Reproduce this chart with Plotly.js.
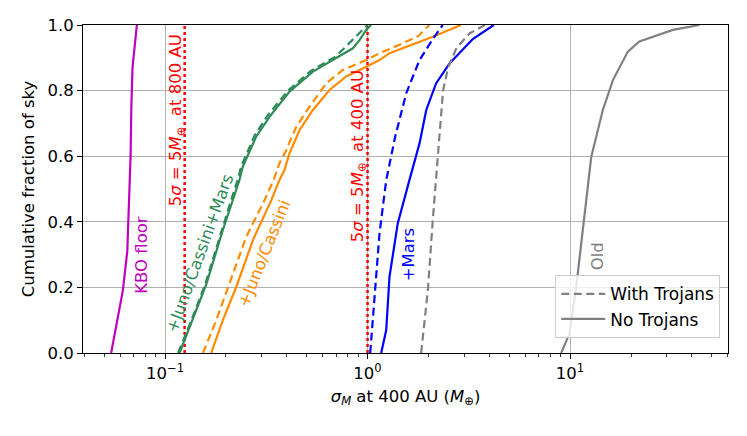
<!DOCTYPE html>
<html>
<head>
<meta charset="utf-8">
<script src="https://cdn.plot.ly/plotly-3.0.1.min.js"></script>
<style>
  html, body { margin: 0; padding: 0; background: #fff; }
  #chart { width: 747px; height: 436px; }
</style>
</head>
<body>
<div id="chart"></div>
<script>
// cumulative fraction of sky (y) vs sigma_M at 400 AU (x, Earth masses)
var kboX = [0.0542, 0.0570, 0.0619, 0.0651, 0.0662, 0.0668, 0.0676, 0.0682, 0.0691, 0.0726];
var kboY = [0, 0.07, 0.19, 0.31, 0.45, 0.53, 0.60, 0.75, 0.87, 1.0];

var jcmSolidX = [0.118, 0.137, 0.160, 0.193, 0.216, 0.233, 0.242, 0.282, 0.328, 0.412, 0.537, 0.727, 0.846, 0.913, 0.985, 1.04];
var jcmSolidY = [0, 0.10, 0.21, 0.375, 0.466, 0.527, 0.568, 0.66, 0.72, 0.797, 0.858, 0.904, 0.929, 0.954, 0.985, 1.0];
var jcmDashX = [0.116, 0.135, 0.158, 0.190, 0.213, 0.229, 0.238, 0.278, 0.322, 0.405, 0.525, 0.70, 0.785, 0.948, 1.0];
var jcmDashY = [0, 0.10, 0.21, 0.375, 0.47, 0.53, 0.57, 0.665, 0.725, 0.80, 0.86, 0.905, 0.935, 0.985, 1.0];

var jcSolidX = [0.169, 0.193, 0.225, 0.272, 0.335, 0.367, 0.389, 0.412, 0.462, 0.537, 0.649, 0.785, 0.985, 1.146, 1.284, 1.70, 2.10, 2.90];
var jcSolidY = [0, 0.10, 0.202, 0.345, 0.466, 0.527, 0.558, 0.609, 0.68, 0.741, 0.802, 0.843, 0.873, 0.893, 0.914, 0.942, 0.964, 1.0];
var jcDashX = [0.154, 0.179, 0.208, 0.252, 0.31, 0.345, 0.367, 0.397, 0.445, 0.517, 0.625, 0.755, 0.985, 1.146, 1.44, 1.77, 2.02];
var jcDashY = [0, 0.10, 0.212, 0.355, 0.466, 0.53, 0.578, 0.619, 0.69, 0.751, 0.822, 0.863, 0.893, 0.914, 0.94, 0.965, 1.0];

var marsSolidX = [1.168, 1.237, 1.284, 1.41, 1.61, 1.806, 1.95, 2.18, 2.54, 3.31, 4.20];
var marsSolidY = [0, 0.07, 0.233, 0.395, 0.527, 0.639, 0.741, 0.822, 0.883, 0.957, 1.0];
var marsDashX = [1.031, 1.083, 1.146, 1.237, 1.37, 1.553, 1.806, 2.10, 2.35];
var marsDashY = [0, 0.162, 0.365, 0.527, 0.66, 0.792, 0.893, 0.957, 1.0];

var oldDashX = [1.84, 1.986, 2.10, 2.22, 2.29, 2.36, 2.50, 2.75, 3.20, 3.80];
var oldDashY = [0, 0.192, 0.405, 0.598, 0.70, 0.80, 0.87, 0.93, 0.975, 1.0];
var oldSolidX = [9.05, 9.94, 10.73, 11.79, 12.73, 14.52, 16.28, 19.3, 22.0, 32.2, 43.6];
var oldSolidY = [0, 0.06, 0.202, 0.426, 0.598, 0.741, 0.832, 0.919, 0.95, 0.985, 1.0];

var limitX = [0.125, 1.0];

var labelText = ['5<i>σ</i> = 5<i>M</i><sub>⊕</sub>  at 800 AU', '5<i>σ</i> = 5<i>M</i><sub>⊕</sub>  at 400 AU',
  'KBO floor', '+Juno/Cassini+Mars', '+Juno/Cassini', '+Mars', 'Old'];
var labelX = [0.1136, 0.897, 0.0763, 0.149, 0.31, 1.61, 13.7];
var labelY = [0.71, 0.60, 0.30, 0.302, 0.302, 0.302, 0.294];
var labelAngle = [-90, -90, -90, -70, -68, -90, -90];
var labelColor = ['#ff0000', '#ff0000', '#bf00bf', '#2e8b57', '#ff8c00', '#0000ff', '#808080'];

var DASH = '8px,4.5px';
var LW = 2.2;

function line(x, y, color, dash, name, legend) {
  return {x: x, y: y, type: 'scatter', mode: 'lines', name: name || '',
    showlegend: !!legend, hoverinfo: 'skip',
    line: {color: color, width: LW, dash: dash || 'solid'}};
}

var traces = [];
limitX.forEach(function(v) {
  traces.push({x: [v, v], y: [0, 1], type: 'scatter', mode: 'lines', showlegend: false,
    hoverinfo: 'skip', line: {color: '#ff0000', width: 2.5, dash: 'dot'}});
});
traces.push(line(kboX, kboY, '#bf00bf'));
traces.push(line(jcmDashX, jcmDashY, '#2e8b57', DASH));
traces.push(line(jcmSolidX, jcmSolidY, '#2e8b57'));
traces.push(line(jcDashX, jcDashY, '#ff8c00', DASH));
traces.push(line(jcSolidX, jcSolidY, '#ff8c00'));
traces.push(line(marsDashX, marsDashY, '#0000ff', DASH));
traces.push(line(marsSolidX, marsSolidY, '#0000ff'));
traces.push(line(oldDashX, oldDashY, '#808080', DASH, 'With Trojans', true));
traces.push(line(oldSolidX, oldSolidY, '#808080', 'solid', 'No Trojans', true));

var annotations = labelText.map(function(t, i) {
  return {x: Math.log10(labelX[i]), y: labelY[i], xref: 'x', yref: 'y', text: t,
    showarrow: false, textangle: labelAngle[i], font: {color: labelColor[i], size: 16.5}};
});

var minorX = [];
[0.01, 0.1, 1, 10].forEach(function(d) {
  for (var k = 2; k <= 9; k++) minorX.push(+(k * d).toPrecision(3));
});

var FONT = {family: 'DejaVu Sans, sans-serif', size: 16.5, color: '#000'};

var layout = {
  width: 747, height: 436,
  margin: {l: 83, r: 19, t: 25, b: 83},
  paper_bgcolor: '#fff', plot_bgcolor: '#fff',
  font: FONT,
  showlegend: true,
  legend: {x: 0.988, y: 0.045, xanchor: 'right', yanchor: 'bottom',
    bgcolor: 'rgba(255,255,255,0.8)', bordercolor: '#cccccc', borderwidth: 1,
    font: {family: FONT.family, size: 17, color: '#000'}, tracegroupgap: 0, itemwidth: 44},
  xaxis: {
    type: 'log', range: [-1.405, 1.78],
    tickvals: [0.1, 1, 10],
    ticktext: ['10<sup>−1</sup>', '10<sup>0</sup>', '10<sup>1</sup>'],
    ticks: 'outside', ticklen: 5, tickwidth: 1, tickcolor: '#000',
    minor: {tickvals: minorX, ticks: 'outside', ticklen: 3, tickwidth: 0.8, tickcolor: '#000', showgrid: false},
    showgrid: true, gridcolor: '#b0b0b0', gridwidth: 1,
    showline: true, linecolor: '#000', linewidth: 1, mirror: true,
    zeroline: false,
    title: {text: '<i>σ</i><sub><i>M</i></sub> at 400 AU (<i>M</i><sub>⊕</sub>)', font: FONT, standoff: 8}
  },
  yaxis: {
    range: [0, 1],
    tickvals: [0, 0.2, 0.4, 0.6, 0.8, 1.0],
    tickformat: '.1f',
    ticks: 'outside', ticklen: 5, tickwidth: 1, tickcolor: '#000',
    showgrid: true, gridcolor: '#b0b0b0', gridwidth: 1,
    showline: true, linecolor: '#000', linewidth: 1, mirror: true,
    zeroline: false,
    title: {text: 'Cumulative fraction of sky', font: FONT, standoff: 8}
  },
  annotations: annotations
};

Plotly.newPlot('chart', traces, layout, {displayModeBar: false, staticPlot: true});
</script>
</body>
</html>
